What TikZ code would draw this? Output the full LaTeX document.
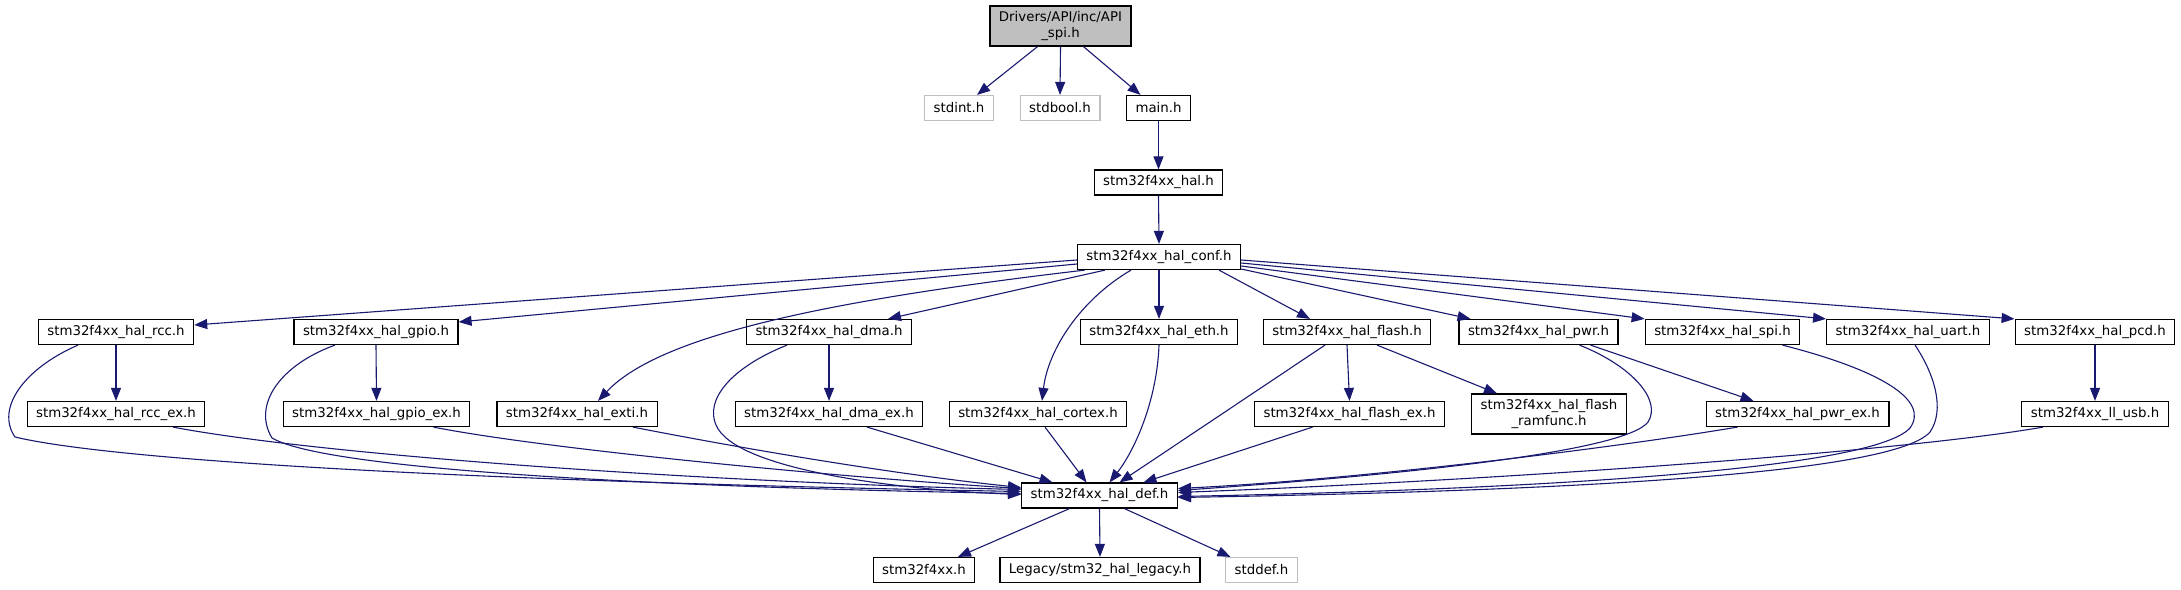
\documentclass[tikz,border=0pt]{standalone}
\usepackage{fontspec}
\setmainfont{DejaVu Sans}
\usepackage{xcolor}
\definecolor{edgeblue}{RGB}{25, 25, 112}
\definecolor{rootgray}{RGB}{191, 191, 191}
\definecolor{extgray}{RGB}{191, 191, 191}
\usepackage{tikz}
\usetikzlibrary{arrows.meta}

\begin{document}
\begin{tikzpicture}[x=1pt, y=-1pt, >={Triangle[length=13pt, width=10pt]},
    file/.style={draw=black, line width=1.2pt, fill=white, minimum height=25pt,
        inner xsep=9pt, inner ysep=2pt, font=\fontsize{13.33pt}{15.5pt}\selectfont},
    sysfile/.style={file, draw=extgray},
    twoline/.style={file, align=center, minimum height=40pt},
    rootfile/.style={twoline, fill=rootgray},
    dep/.style={->, edgeblue, line width=1.1pt}]
    \useasboundingbox (0,0) rectangle (2181,589);

    \node[rootfile] (root) at (1060.5, 26) {Drivers/API/inc/API\\\_spi.h};
    \node[sysfile] (stdint) at (959, 108) {stdint.h};
    \node[sysfile] (stdbool) at (1060, 108) {stdbool.h};
    \node[file] (mainh) at (1158.5, 108) {main.h};
    \node[file] (hal) at (1158.5, 182.5) {stm32f4xx\_hal.h};
    \node[file] (conf) at (1159, 257) {stm32f4xx\_hal\_conf.h};

    \node[file] (rcc) at (116, 332) {stm32f4xx\_hal\_rcc.h};
    \node[file] (gpio) at (376, 332) {stm32f4xx\_hal\_gpio.h};
    \node[file] (dma) at (829, 332) {stm32f4xx\_hal\_dma.h};
    \node[file] (eth) at (1159, 332) {stm32f4xx\_hal\_eth.h};
    \node[file] (flash) at (1347, 332) {stm32f4xx\_hal\_flash.h};
    \node[file] (pwr) at (1538.5, 332) {stm32f4xx\_hal\_pwr.h};
    \node[file] (spi) at (1722.5, 332) {stm32f4xx\_hal\_spi.h};
    \node[file] (uart) at (1908, 332) {stm32f4xx\_hal\_uart.h};
    \node[file] (pcd) at (2095, 332) {stm32f4xx\_hal\_pcd.h};

    \node[file] (rccex) at (116, 414) {stm32f4xx\_hal\_rcc\_ex.h};
    \node[file] (gpioex) at (376.5, 414) {stm32f4xx\_hal\_gpio\_ex.h};
    \node[file] (exti) at (577, 414) {stm32f4xx\_hal\_exti.h};
    \node[file] (dmaex) at (829, 414) {stm32f4xx\_hal\_dma\_ex.h};
    \node[file] (cortex) at (1038, 414) {stm32f4xx\_hal\_cortex.h};
    \node[file] (flashex) at (1349.5, 414) {stm32f4xx\_hal\_flash\_ex.h};
    \node[twoline] (ramfunc) at (1549, 414) {stm32f4xx\_hal\_flash\\\_ramfunc.h};
    \node[file] (pwrex) at (1797.5, 414) {stm32f4xx\_hal\_pwr\_ex.h};
    \node[file] (llusb) at (2095, 414) {stm32f4xx\_ll\_usb.h};

    \node[file] (def) at (1099.5, 495.5) {stm32f4xx\_hal\_def.h};
    \node[file] (stm) at (924, 570) {stm32f4xx.h};
    \node[file] (legacy) at (1100, 570) {Legacy/stm32\_hal\_legacy.h};
    \node[sysfile] (stddef) at (1261.5, 570) {stddef.h};

    \draw[dep] ([xshift=-23pt]root.south) -- ([xshift=18pt]stdint.north);
    \draw[dep] (root.south) -- (stdbool.north);
    \draw[dep] ([xshift=23pt]root.south) -- ([xshift=-18pt]mainh.north);
    \draw[dep] (mainh.south) -- (hal.north);
    \draw[dep] (hal.south) -- (conf.north);

    \draw[dep] ([yshift=-3pt]conf.west) -- ([yshift=7pt]rcc.east);
    \draw[dep] ([yshift=-7pt]conf.west) -- ([yshift=10pt]gpio.east);
    \draw[dep] ([xshift=8pt]conf.south west) .. controls (830,300) and (660,335) .. ([xshift=21pt]exti.north);
    \draw[dep] ([xshift=-54pt]conf.south) -- ([xshift=59pt]dma.north);
    \draw[dep] ([xshift=-28pt]conf.south) .. controls (1080,300) and (1048,350) .. ([xshift=4pt]cortex.north);
    \draw[dep] (conf.south) -- (eth.north);
    \draw[dep] ([xshift=60pt]conf.south) -- ([xshift=-37pt]flash.north);
    \draw[dep] ([yshift=-12pt]conf.east) -- ([xshift=-68pt]pwr.north);
    \draw[dep] ([yshift=-9pt]conf.east) -- (spi.north west);
    \draw[dep] ([yshift=-6pt]conf.east) -- (uart.north west);
    \draw[dep] ([yshift=-3pt]conf.east) -- (pcd.north west);

    \draw[dep] (rcc.south) -- (rccex.north);
    \draw[dep] (gpio.south) -- (gpioex.north);
    \draw[dep] (dma.south) -- (dmaex.north);
    \draw[dep] (flash.south) -- (flashex.north);
    \draw[dep] ([xshift=30pt]flash.south) -- ([xshift=-52pt]ramfunc.north);
    \draw[dep] ([xshift=52pt]pwr.south) -- ([xshift=-44pt]pwrex.north);
    \draw[dep] (pcd.south) -- (llusb.north);

    \draw[dep] ([xshift=-38pt]rcc.south) .. controls (25,368) and (-5,408) .. (15,437)
        .. controls (120,462) and (500,482) .. ([yshift=4pt]def.west);
    \draw[dep] ([xshift=-41pt]gpio.south) .. controls (280,365) and (252,405) .. (272,438)
        .. controls (330,472) and (700,488) .. ([yshift=2pt]def.west);
    \draw[dep] ([xshift=57pt]rccex.south) .. controls (320,455) and (700,482) .. ([yshift=6pt]def.west);
    \draw[dep] ([xshift=57pt]gpioex.south) .. controls (550,450) and (850,478) .. ([yshift=7pt]def.west);
    \draw[dep] ([xshift=56pt]exti.south) .. controls (750,450) and (900,475) .. ([yshift=8pt]def.west);
    \draw[dep] ([xshift=-42pt]dma.south) .. controls (730,368) and (705,400) .. (716,425)
        .. controls (735,470) and (900,490) .. ([yshift=1pt]def.west);
    \draw[dep] ([xshift=38pt]dmaex.south) -- ([xshift=-47pt]def.north);
    \draw[dep] ([xshift=7pt]cortex.south) -- ([xshift=-13pt]def.north);
    \draw[dep] (eth.south) .. controls (1157,400) and (1135,450) .. ([xshift=10pt]def.north);
    \draw[dep] ([xshift=-22pt]flash.south) -- ([xshift=20pt]def.north);
    \draw[dep] ([xshift=-37pt]flashex.south) -- ([xshift=44pt]def.north);
    \draw[dep] ([xshift=41pt]pwr.south) .. controls (1632,366) and (1662,400) .. (1648,422)
        .. controls (1625,452) and (1400,475) .. ([yshift=5pt]def.east);
    \draw[dep] ([xshift=-60pt]pwrex.south) .. controls (1600,450) and (1350,480) .. ([yshift=7pt]def.east);
    \draw[dep] ([xshift=60pt]spi.south) .. controls (1880,370) and (1930,400) .. (1910,428)
        .. controls (1870,472) and (1500,490) .. ([yshift=-1pt]def.east);
    \draw[dep] ([xshift=7pt]uart.south) .. controls (1935,375) and (1945,410) .. (1930,432)
        .. controls (1890,478) and (1500,492) .. ([yshift=-2pt]def.east);
    \draw[dep] ([xshift=-52pt]llusb.south) .. controls (1900,452) and (1500,480) .. ([yshift=3pt]def.east);

    \draw[dep] ([xshift=-30pt]def.south) -- ([xshift=34pt]stm.north);
    \draw[dep] (def.south) -- (legacy.north);
    \draw[dep] ([xshift=25pt]def.south) -- ([xshift=-31pt]stddef.north);
\end{tikzpicture}
\end{document}
